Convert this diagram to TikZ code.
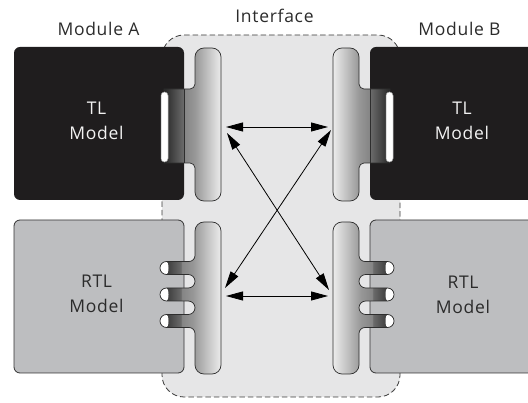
\documentclass[tikz,border=0pt]{standalone}
\usepackage{fontspec}
\setmainfont[LetterSpace=4]{Open Sans}
\usetikzlibrary{arrows.meta}

\definecolor{tlfill}{HTML}{1F1D1E}
\definecolor{rtlfill}{HTML}{BDBEC0}
\definecolor{boxedge}{HTML}{333333}
\definecolor{ifacefill}{HTML}{E6E6E7}
\definecolor{ifaceedge}{HTML}{3A3A3A}
\definecolor{portedge}{HTML}{2E2E2E}
\definecolor{labelc}{HTML}{2B2B2B}
\definecolor{tltext}{HTML}{F2F2F2}
\definecolor{portdark}{HTML}{262626}
\definecolor{portmid}{HTML}{6A6A6A}
\definecolor{portneck}{HTML}{858585}
\definecolor{portbar}{HTML}{979797}
\definecolor{portlight}{HTML}{ECECEC}

% port shadings: dark inside the model, light at the interface side
\pgfdeclarehorizontalshading{portL}{100bp}{color(0bp)=(portdark); color(25bp)=(portdark);
  color(42bp)=(portmid); color(43bp)=(portneck); color(52bp)=(portbar);
  color(75bp)=(portlight); color(100bp)=(portlight)}
\pgfdeclarehorizontalshading{portR}{100bp}{color(0bp)=(portlight); color(25bp)=(portlight);
  color(48bp)=(portbar); color(57bp)=(portneck); color(58bp)=(portmid);
  color(75bp)=(portdark); color(100bp)=(portdark)}

% outline of the TL port (bar, neck and stub)
\newcommand\tlportpath{(164,89) -- (190,89) arc(90:0:5) -- (195,57) arc(180:270:9)
  -- (212,48) arc(270:360:9) -- (221,192) arc(0:90:9) -- (204,201) arc(90:180:9)
  -- (195,168) arc(0:-90:5) -- (164,163) -- cycle}
% outline of the RTL port (bar with three pins)
\newcommand\rtlportpath{(166.5,261.5) -- (189,261.5) arc(90:0:6) -- (195,231) arc(180:270:9)
  -- (212,222) arc(270:360:9) -- (221,365) arc(0:90:9) -- (204,374) arc(90:180:9)
  -- (195,333.5) arc(0:-90:6) -- (166.5,327.5) arc(90:270:6.5)
  -- (188.25,314.5) arc(90:-90:6.75) -- (166.5,301) arc(90:270:6.5)
  -- (188.25,288) arc(90:-90:6.75) -- (166.5,274.5) arc(90:270:6.5) -- cycle}

% one module side: TL box with its port, RTL box with its port
\newcommand\moduleside[1]{%
  \fill[tlfill, rounded corners=6pt] (14,47) rectangle (184,200);
  \path[shading=#1] \tlportpath;
  \draw[portline] \tlportpath;
  \draw[portline] (184,89) -- (184,163);
  \filldraw[fill=white, draw=gray!70, line width=0.5pt, rounded corners=3.5pt] (161,92) rectangle (168,162);
  \filldraw[fill=rtlfill, draw=boxedge, line width=0.8pt, rounded corners=6pt] (14,220) rectangle (184,373);
  \path[shading=#1] \rtlportpath;
  \foreach \yc in {268,294.5,321}{
    \fill[white] (166.5,\yc-6.5) arc(270:90:6.5) arc(90:-90:2 and 6.5);
  }
  \draw[portline] \rtlportpath;
}

\begin{document}
\begin{tikzpicture}[x=1pt,y=-1pt,
  lbl/.style={font=\fontsize{17.5}{25}\selectfont, inner sep=0pt, align=center},
  portline/.style={draw=portedge, line width=0.7pt},
  link/.style={line width=0.8pt, {Triangle[length=17pt,width=9pt]}-{Triangle[length=17pt,width=9pt]}}]
\useasboundingbox (0,0) rectangle (528,403);
\clip (0,0) rectangle (528,403);

% interface region
\draw[fill=ifacefill, draw=ifaceedge, line width=0.8pt, dash pattern=on 5.5pt off 3pt,
  rounded corners=22pt] (162,35) rectangle (400,397);

% module A and its mirror image, module B
\moduleside{portL}
\begin{scope}[shift={(554,0)}, xscale=-1]
  \moduleside{portR}
\end{scope}

% arrow end points on the port bars
\coordinate (pA1) at (226,127);
\coordinate (pB1) at (328,127);
\coordinate (dA1) at (227,133);
\coordinate (dB2) at (329,290);
\coordinate (dA2) at (225,288);
\coordinate (dB1) at (331,130);
\coordinate (pA2) at (226,296);
\coordinate (pB2) at (328,296);

\draw[link] (pA1) -- (pB1);
\draw[link] (dA1) -- (dB2);
\draw[link] (dA2) -- (dB1);
\draw[link] (pA2) -- (pB2);

% labels
\node[lbl, text=labelc, anchor=base] (modA) at (98.5,36) {Module A};
\node[lbl, text=labelc, anchor=base] (iface) at (274.5,23) {Interface};
\node[lbl, text=labelc, anchor=base] (modB) at (459.5,36) {Module B};
\node[lbl, text=tltext] (tlA) at (96.5,121) {TL\\Model};
\node[lbl, text=tltext] (tlB) at (462,121) {TL\\Model};
\node[lbl, text=labelc] (rtlA) at (96.5,293.5) {RTL\\Model};
\node[lbl, text=labelc] (rtlB) at (463,294.5) {RTL\\Model};
\end{tikzpicture}
\end{document}
